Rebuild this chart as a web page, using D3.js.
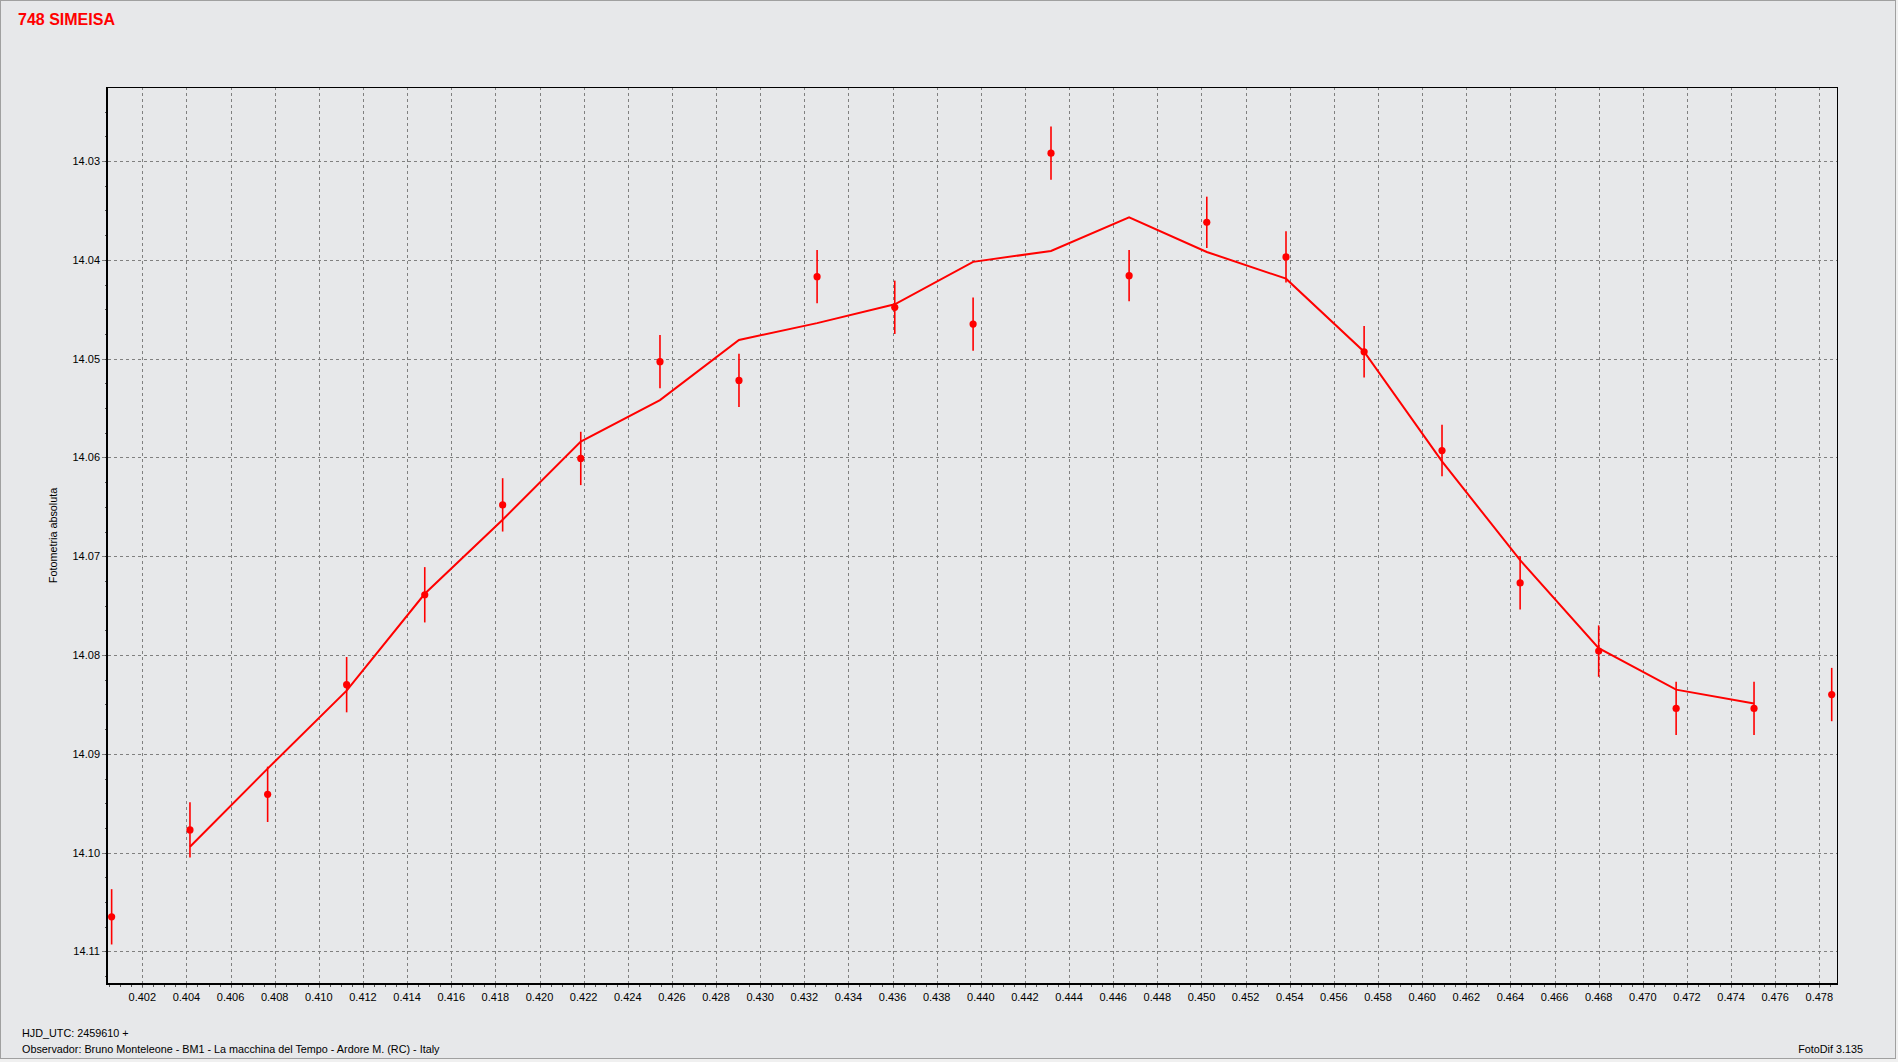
<!DOCTYPE html>
<html>
<head>
<meta charset="utf-8">
<title>748 SIMEISA</title>
<script src="https://cdn.jsdelivr.net/npm/d3@7"></script>
<style>
  html, body { margin: 0; padding: 0; background: #f0f0f0; }
  svg { display: block; font-family: "Liberation Sans", Arial, sans-serif; }
  .grid line { stroke: #808080; stroke-width: 1; stroke-dasharray: 3,3; shape-rendering: crispEdges; }
  .tick_label { font-size: 11px; fill: #000; }
  .note { font-size: 10.8px; fill: #000; }
</style>
</head>
<body>
<div id="container"></div>
<script>

//---------------------
// DATA
//---------------------

// HJD_UTC - 2459610
const hjd = [
  0.40061, 0.40416, 0.40768, 0.41126, 0.41480, 0.41833, 0.42187, 0.42546,
  0.42904, 0.43258, 0.43610, 0.43965, 0.44318, 0.44672, 0.45024, 0.45383,
  0.45737, 0.46090, 0.46444, 0.46800, 0.47151, 0.47504, 0.47856
];

// absolute photometry (mag)
const mag = [
  14.1065, 14.0977, 14.0941, 14.0830, 14.0739, 14.0648, 14.0601, 14.0503,
  14.0522, 14.0417, 14.0448, 14.0465, 14.0292, 14.0416, 14.0362, 14.0397,
  14.0493, 14.0593, 14.0727, 14.0796, 14.0854, 14.0854, 14.0840
];

// error (half bar, mag)
const err = [
  0.0028, 0.0028, 0.0028, 0.0028, 0.0028, 0.0027, 0.0027, 0.0027,
  0.0027, 0.0027, 0.0027, 0.0027, 0.0027, 0.0026, 0.0026, 0.0026,
  0.0026, 0.0026, 0.0027, 0.0026, 0.0027, 0.0027, 0.0027
];

// smoothed curve, drawn from the 2nd to the 22nd point
const fit_first = 1;
const fit_mag = [
  14.0994, 14.0915, 14.0836, 14.0738, 14.0663, 14.0584, 14.0542, 14.0481,
  14.0464, 14.0445, 14.0402, 14.0391, 14.0357, 14.0392, 14.0419, 14.0493,
  14.0604, 14.0704, 14.0793, 14.0835, 14.0849
];

const x_ticks = d3.range(0, 39).map(i => +(0.402 + i * 0.002).toFixed(3));
const x_minor = d3.range(0, 158).map(i => +(0.4005 + i * 0.0005).toFixed(4));
const y_ticks = [14.03, 14.04, 14.05, 14.06, 14.07, 14.08, 14.09, 14.10, 14.11];
const y_minor = d3.range(0, 37).map(i => +(14.0225 + i * 0.0025).toFixed(4));

const x_domain = [0.4004, 0.4788];
const y_domain = [14.0225, 14.1133];

const title = '748 SIMEISA';
const y_title = 'Fotometria absoluta';
const notes = [
  'HJD_UTC: 2459610 +',
  'Observador: Bruno Monteleone - BM1 - La macchina del Tempo - Ardore M. (RC) - Italy'
];
const version = 'FotoDif 3.135';

//---------------------
// SVG + DIMENSIONS
//---------------------

const W = 1898, H = 1062;
const plot = { left: 107, right: 1837, top: 87, bottom: 984 };

const svg = d3.select('#container')
              .append('svg')
              .attr('width', W)
              .attr('height', H);

// window panel
svg.append('rect')
   .attr('x', 0.5).attr('y', 0.5)
   .attr('width', W - 3).attr('height', H - 4)
   .attr('fill', '#e7e8ea')
   .attr('stroke', '#a0a0a0');

const x = d3.scaleLinear().domain(x_domain).range([plot.left, plot.right]);
const y = d3.scaleLinear().domain(y_domain).range([plot.top, plot.bottom]);

//---------------------
// GRID
//---------------------

svg.append('g')
   .attr('class', 'grid')
   .selectAll('line')
   .data(x_ticks)
   .enter()
   .append('line')
   .attr('x1', d => Math.round(x(d)) + 0.5)
   .attr('x2', d => Math.round(x(d)) + 0.5)
   .attr('y1', plot.top)
   .attr('y2', plot.bottom + 4);

svg.append('g')
   .attr('class', 'grid')
   .selectAll('line')
   .data(y_ticks)
   .enter()
   .append('line')
   .attr('x1', plot.left - 5)
   .attr('x2', plot.right)
   .attr('y1', d => Math.round(y(d)) + 0.5)
   .attr('y2', d => Math.round(y(d)) + 0.5);

//---------------------
// AXES
//---------------------

function addAxisX () {
  const g = svg.append('g');

  g.selectAll('line.minor')
   .data(x_minor.filter(d => d > x_domain[0] && d < x_domain[1]))
   .enter()
   .append('line')
   .attr('x1', d => Math.round(x(d)) + 0.5)
   .attr('x2', d => Math.round(x(d)) + 0.5)
   .attr('y1', plot.bottom)
   .attr('y2', plot.bottom + 3)
   .attr('stroke', '#555')
   .attr('shape-rendering', 'crispEdges');

  g.selectAll('text')
   .data(x_ticks)
   .enter()
   .append('text')
   .attr('class', 'tick_label')
   .attr('x', d => x(d))
   .attr('y', 1001)
   .attr('text-anchor', 'middle')
   .text(d => d.toFixed(3));
}

function addAxisY () {
  const g = svg.append('g');

  g.selectAll('line.minor')
   .data(y_minor.filter(d => d > y_domain[0] && d < y_domain[1]))
   .enter()
   .append('line')
   .attr('x1', plot.left - 2)
   .attr('x2', plot.left)
   .attr('y1', d => Math.round(y(d)) + 0.5)
   .attr('y2', d => Math.round(y(d)) + 0.5)
   .attr('stroke', '#555')
   .attr('shape-rendering', 'crispEdges');

  g.selectAll('text')
   .data(y_ticks)
   .enter()
   .append('text')
   .attr('class', 'tick_label')
   .attr('x', 100)
   .attr('y', d => y(d) + 4)
   .attr('text-anchor', 'end')
   .text(d => d.toFixed(2));
}

addAxisX();
addAxisY();

// frame: thin top/right, heavy left/bottom
svg.append('rect')
   .attr('x', plot.left + 0.5).attr('y', plot.top + 0.5)
   .attr('width', plot.right - plot.left).attr('height', plot.bottom - plot.top)
   .attr('fill', 'none')
   .attr('stroke', '#000')
   .attr('shape-rendering', 'crispEdges');

svg.append('path')
   .attr('d', `M${plot.left},${plot.top}V${plot.bottom}H${plot.right + 1}`)
   .attr('fill', 'none')
   .attr('stroke', '#000')
   .attr('stroke-width', 2.5)
   .attr('shape-rendering', 'crispEdges');

//---------------------
// CURVE + POINTS
//---------------------

const line = d3.line()
               .x((d, i) => x(hjd[i + fit_first]))
               .y(d => y(d));

svg.append('path')
   .datum(fit_mag)
   .attr('d', line)
   .attr('fill', 'none')
   .attr('stroke', '#ff0000')
   .attr('stroke-width', 2);

const points = hjd.map((t, i) => ({ t: t, m: mag[i], e: err[i] }));

svg.append('g')
   .selectAll('line')
   .data(points)
   .enter()
   .append('line')
   .attr('x1', d => x(d.t))
   .attr('x2', d => x(d.t))
   .attr('y1', d => y(d.m - d.e))
   .attr('y2', d => y(d.m + d.e))
   .attr('stroke', '#ff0000')
   .attr('stroke-width', 1.6);

svg.append('g')
   .selectAll('circle')
   .data(points)
   .enter()
   .append('circle')
   .attr('cx', d => x(d.t))
   .attr('cy', d => y(d.m))
   .attr('r', 3.6)
   .attr('fill', '#ff0000');

//---------------------
// TEXTS
//---------------------

svg.append('text')
   .attr('x', 18)
   .attr('y', 25)
   .attr('font-size', 16)
   .attr('font-weight', 'bold')
   .attr('fill', '#ff0000')
   .text(title);

svg.append('text')
   .attr('class', 'note')
   .attr('transform', `translate(57, ${(plot.top + plot.bottom) / 2}) rotate(-90)`)
   .attr('text-anchor', 'middle')
   .attr('font-size', 10.5)
   .text(y_title);

svg.selectAll('text.foot')
   .data(notes)
   .enter()
   .append('text')
   .attr('class', 'note foot')
   .attr('x', 22)
   .attr('y', (d, i) => 1037 + i * 16)
   .text(d => d);

svg.append('text')
   .attr('class', 'note')
   .attr('x', 1863)
   .attr('y', 1053)
   .attr('text-anchor', 'end')
   .text(version);

</script>
</body>
</html>
